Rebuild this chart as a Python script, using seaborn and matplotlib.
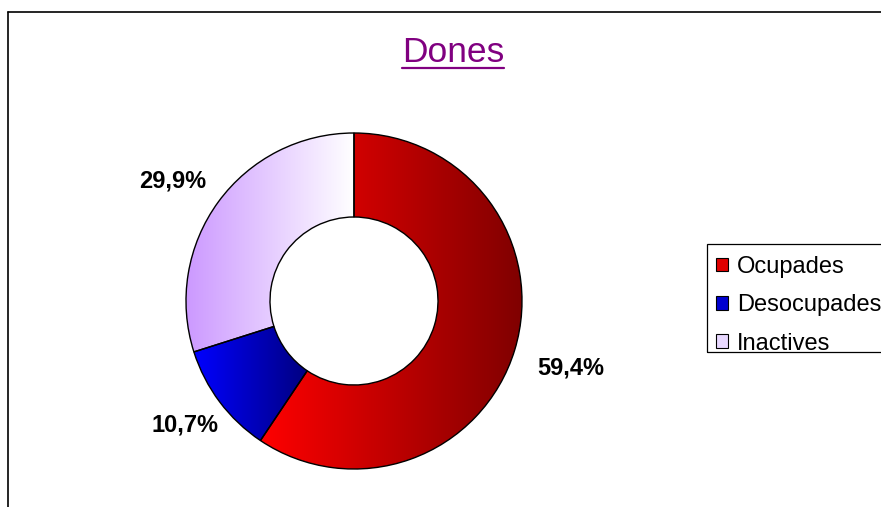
import numpy as np
import pandas as pd
import matplotlib
matplotlib.use("Agg")
import matplotlib.pyplot as plt
from matplotlib.colors import LinearSegmentedColormap
from matplotlib.patches import Patch, Rectangle
from matplotlib.lines import Line2D
import seaborn as sns

# ---- data ----
categories = ["Ocupades", "Desocupades", "Inactives"]
values = [59.4, 10.7, 29.9]
labels = ["59,4%", "10,7%", "29,9%"]
title = "Dones"

# gradient colour pairs (left -> right)
grad_left = ["#FF0000", "#0000FF", "#CC99FF"]
grad_right = ["#800000", "#000080", "#FFFFFF"]
legend_colors = ["#E00000", "#0000D0", "#E8D8FF"]

# label placement relative to wedge mid-angle – layout parameters
label_dist = [1.352, 1.248, 1.292]
label_ang_shift = [-0.3, -0.6, 2.7]

sns.set_theme(style="white")
plt.rcParams["font.family"] = ["Liberation Sans", "DejaVu Sans"]
plt.rcParams["text.color"] = "black"

W, H = 881, 507
fig = plt.figure(figsize=(W / 100, H / 100), dpi=100)
fig.patch.set_facecolor("white")

# pie axes: centre (354, 301) px, radius 168 px
cx, cy, r = 354, 301, 168
ax = fig.add_axes([(cx - r) / W, (H - cy - r) / H, 2 * r / W, 2 * r / H])

df = pd.DataFrame({"cat": categories, "val": values, "lab": labels})

wedges, _ = ax.pie(df["val"], startangle=90, counterclock=False, radius=1.0,
                   wedgeprops=dict(width=0.5, edgecolor="black", linewidth=1.0,
                                   facecolor="none"))
ax.set_xlim(-1, 1)
ax.set_ylim(-1, 1)
ax.set_aspect("auto")
ax.axis("off")

grad = np.linspace(0, 1, 256).reshape(1, -1)
for w, cl, cr in zip(wedges, grad_left, grad_right):
    cmap = LinearSegmentedColormap.from_list("g", [cl, cr])
    bb = w.get_path().get_extents(w.get_patch_transform())
    im = ax.imshow(grad, cmap=cmap, aspect="auto", interpolation="bilinear",
                   extent=[bb.x0, bb.x1, bb.y0, bb.y1], zorder=0.5)
    im.set_clip_path(w)
    w.set_zorder(1)

# percentage labels placed along mid-angle of each wedge
for w, lab, d, sh in zip(wedges, df["lab"], label_dist, label_ang_shift):
    ang = np.deg2rad((w.theta1 + w.theta2) / 2 + sh)
    ax.text(d * np.cos(ang), d * np.sin(ang), lab, ha="center", va="center",
            fontsize=17, fontweight="bold", color="black", clip_on=False)

# title with underline
t = fig.text(453 / W, 1 - 52 / H, title, ha="center", va="center",
             fontsize=25.5, color="#800080")
fig.canvas.draw()
bb = t.get_window_extent(fig.canvas.get_renderer())
yl = 1 - 68 / H
fig.add_artist(Line2D([bb.x0 / W, bb.x1 / W], [yl, yl], color="#800080",
                      linewidth=1.6, transform=fig.transFigure))

# legend (frameless) + separate frame box
handles = [Patch(facecolor=c, edgecolor="black", linewidth=0.8) for c in legend_colors]
leg = fig.legend(handles, categories, loc="upper left",
                 bbox_to_anchor=(716 / W, 1 - 256 / H), bbox_transform=fig.transFigure,
                 frameon=False, fontsize=17, labelcolor="black",
                 handlelength=0.5, handleheight=0.5, handletextpad=0.4,
                 labelspacing=0.69, borderpad=0, borderaxespad=0)
fig.add_artist(Rectangle((707 / W, 1 - 352 / H), (W + 20 - 707) / W, 108 / H,
                         transform=fig.transFigure, facecolor="none",
                         edgecolor="black", linewidth=0.9, clip_on=False))

# outer frame lines (left & top)
fig.add_artist(Line2D([8 / W, 8 / W], [0, 1 - 12 / H], color="black",
                      linewidth=1.2, transform=fig.transFigure))
fig.add_artist(Line2D([8 / W, 1], [1 - 12 / H, 1 - 12 / H], color="black",
                      linewidth=1.2, transform=fig.transFigure))

fig.savefig("out.png", dpi=100)
